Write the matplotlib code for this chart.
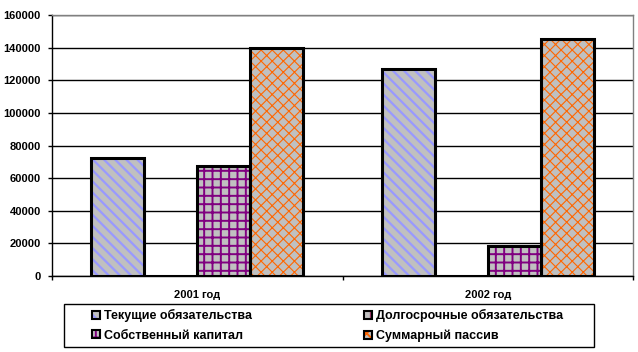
import matplotlib
matplotlib.use("Agg")
import matplotlib.pyplot as plt
from matplotlib.patches import Patch, Rectangle
from matplotlib.legend_handler import HandlerTuple

plt.rcParams['font.family'] = ['Liberation Sans', 'DejaVu Sans']
plt.rcParams['font.weight'] = 'bold'
plt.rcParams['hatch.linewidth'] = 1.4

categories = ['2001 год', '2002 год']
series_names = ['Текущие обязательства', 'Долгосрочные обязательства',
                'Собственный капитал', 'Суммарный пассив']
tekushchie = [72500, 127000]
dolgosrochnye = [0, 0]
sobstvennyi = [67500, 18500]
summarnyi = [140000, 145500]
values = [tekushchie, dolgosrochnye, sobstvennyi, summarnyi]
yticks = [0, 20000, 40000, 60000, 80000, 100000, 120000, 140000, 160000]

hatch_colors = ['#9999FF', '#993366', '#800080', '#FF6600']
hatches = ['\\\\\\', '||', '++', 'xxx']
hatch_lws = [1.6, 1.4, 1.4, 0.8]
face = '#C0C0C0'

fig = plt.figure(figsize=(6.38, 3.52), dpi=100)
ax = fig.add_axes([52/638, 1-276/352, (633-52)/638, (276-15)/352])

w = 0.1825
offsets = [-1.5, -0.5, 0.5, 1.5]
xs = [0.5, 1.5]
handles = []
for vals, hc, h, hlw, off in zip(values, hatch_colors, hatches, hatch_lws, offsets):
    pos = [x + off*w for x in xs]
    with plt.rc_context({'hatch.linewidth': hlw}):
        bars = ax.bar(pos, vals, width=w, color=face, edgecolor=hc, hatch=h,
                      linewidth=0, zorder=3)
        p1 = Patch(facecolor=face, edgecolor=hc, hatch=h, linewidth=0)
    for b in list(bars) + [p1]:
        if hasattr(b, 'set_hatch_linewidth'):
            b.set_hatch_linewidth(hlw)
    ax.bar(pos, vals, width=w, fill=False, edgecolor='black', linewidth=2.2, zorder=4)
    p2 = Patch(fill=False, edgecolor='black', linewidth=1.5)
    handles.append((p1, p2))

ax.set_xlim(0, 2)
ax.set_ylim(0, 160000)
ax.set_yticks(yticks)
ax.set_yticklabels([str(v) for v in yticks], fontsize=8, fontweight='bold')
ax.yaxis.grid(True, color='black', linewidth=1, zorder=0)
ax.set_axisbelow(True)
ax.set_xticks([0, 1, 2])
ax.set_xticklabels([])
ax.set_xticks(xs, minor=True)
ax.set_xticklabels(categories, minor=True, fontsize=8, fontweight='bold')
ax.tick_params(axis='x', which='minor', length=0, pad=10)
ax.tick_params(axis='x', which='major', length=3, width=1, direction='out', color='black')
ax.tick_params(axis='y', length=3, width=1, direction='out', pad=5)
for s in ['top', 'right']:
    ax.spines[s].set_color('#808080')
    ax.spines[s].set_linewidth(1)
for s in ['left', 'bottom']:
    ax.spines[s].set_color('black')
    ax.spines[s].set_linewidth(1)

# legend frame
fig.patches.append(Rectangle((64/638, 1-347/352), (594-64)/638, (347-304)/352,
                             transform=fig.transFigure, fill=False,
                             edgecolor='black', linewidth=1))
# row-wise order: matplotlib fills columns first
order = [0, 2, 1, 3]
leg = fig.legend([handles[i] for i in order], [series_names[i] for i in order],
                 ncol=2, loc='upper left',
                 bbox_to_anchor=(92/638, 1-309/352), frameon=False,
                 handler_map={tuple: HandlerTuple(ndivide=1)},
                 prop={'size': 9, 'weight': 'bold'},
                 handlelength=0.6, handleheight=0.6, handletextpad=0.35,
                 columnspacing=9.0, labelspacing=0.6, borderpad=0, borderaxespad=0)

fig.savefig('out.png', dpi=100)
